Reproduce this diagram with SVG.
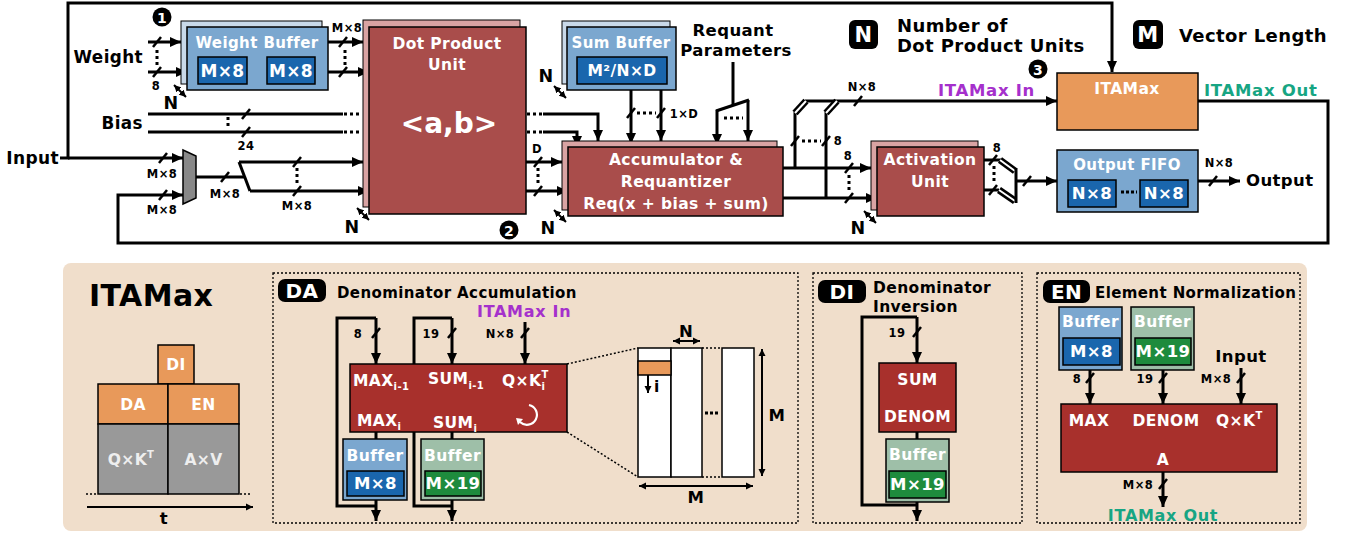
<svg xmlns="http://www.w3.org/2000/svg" xmlns:xlink="http://www.w3.org/1999/xlink" width="1349" height="533" viewBox="0 0 1349 533">
<style>
.ln{fill:none;stroke:#000;stroke-width:3}
.ar{marker-end:url(#ah)}
.thin{fill:none;stroke:#000;stroke-width:2;marker-start:url(#sa);marker-end:url(#sa)}
.dt{fill:none;stroke:#000;stroke-width:3;stroke-dasharray:3 3}
.dl{fill:none;stroke:#000;stroke-width:1.5;stroke-dasharray:2 2}
.bus{fill:none;stroke:#000;stroke-width:7}
.busw{fill:none;stroke:#fff;stroke-width:2}
.t{font-family:"DejaVu Sans",Verdana,"Liberation Sans",sans-serif;font-weight:bold;fill:#000;letter-spacing:0.4px}
.w{fill:#fff}
.c{text-anchor:middle}
.s{font-size:11.5px}
.bf{fill:#7ba7cf;stroke:#000;stroke-width:1.5}
.bb{fill:#c9d9e9;stroke:#000;stroke-width:1}
.db{fill:#1a66ad;stroke:#000;stroke-width:1.5}
.gb{fill:#9ebfa8;stroke:#000;stroke-width:1.5}
.dg{fill:#1e8b3d;stroke:#000;stroke-width:1.5}
.rf{fill:#a94d4b;stroke:#000;stroke-width:1.5}
.rb{fill:#d9a3a3;stroke:#000;stroke-width:1}
.rd{fill:#a8302c;stroke:#000;stroke-width:1.5}
.or{fill:#e8995a;stroke:#000;stroke-width:1.5}
.gr{fill:#999;stroke:#000;stroke-width:1.5}
.wh{fill:#fff;stroke:#000;stroke-width:1.5}
.pu{fill:#a530cc;letter-spacing:0.7px}
.tl{fill:#17a583;letter-spacing:0.7px}
</style>
<defs>
<marker id="ah" markerUnits="userSpaceOnUse" markerWidth="12" markerHeight="12" refX="11" refY="6" orient="auto"><path d="M0,1 L11,6 L0,11 z"/></marker>
<marker id="sa" markerUnits="userSpaceOnUse" markerWidth="8" markerHeight="8" refX="7" refY="4" orient="auto-start-reverse"><path d="M0,0.5 L7,4 L0,7.5 z"/></marker>
<path id="sl" d="M-4,5 L4,-5" stroke="#000" stroke-width="2.5" fill="none"/>
</defs>
<rect width="1349" height="533" fill="#fff"/>

<!-- ============ TOP: connectors ============ -->
<g id="connectors">
  <polyline class="ln ar" points="60,158 68,158 68,3 1112,3 1112,72"/>
  <line class="ln ar" x1="68" y1="158" x2="183" y2="158"/>
  <polyline class="ln ar" points="1198,101 1328,101 1328,243 118,243 118,195 183,195"/>
  <line class="ln" x1="196" y1="177" x2="245" y2="177"/>
  <line class="ln" x1="239" y1="162" x2="250" y2="191"/>
  <line class="ln ar" x1="239" y1="162" x2="363" y2="162"/>
  <line class="ln ar" x1="250" y1="191" x2="369" y2="191"/>
  <line class="ln" x1="148" y1="114" x2="343" y2="114"/>
  <line class="ln" x1="148" y1="132" x2="343" y2="132"/>
  <line class="dt" x1="344" y1="114" x2="362" y2="114"/>
  <line class="dt" x1="344" y1="132" x2="362" y2="132"/>
  <line class="dt" x1="527" y1="114" x2="543" y2="114"/>
  <line class="dt" x1="527" y1="132" x2="543" y2="132"/>
  <polyline class="ln ar" points="543,114 598,114 598,141"/>
  <polyline class="ln ar" points="543,132 577,132 577,147"/>
  <line class="ln ar" x1="148" y1="42" x2="181" y2="42"/>
  <line class="ln ar" x1="148" y1="72" x2="187" y2="72"/>
  <line class="ln ar" x1="328" y1="42" x2="363" y2="42"/>
  <line class="ln ar" x1="328" y1="72" x2="369" y2="72"/>
  <line class="ln ar" x1="526" y1="162" x2="562" y2="162"/>
  <line class="ln ar" x1="526" y1="191" x2="568" y2="191"/>
  <line class="ln ar" x1="631" y1="90" x2="631" y2="144"/>
  <line class="ln ar" x1="661" y1="90" x2="661" y2="141"/>
  <line class="ln" x1="733" y1="62" x2="733" y2="106"/>
  <line class="ln" x1="716" y1="111" x2="749" y2="100"/>
  <line class="ln ar" x1="717" y1="110" x2="717" y2="145"/>
  <line class="ln ar" x1="748" y1="100" x2="748" y2="141"/>
  <line class="ln ar" x1="783" y1="168" x2="871" y2="168"/>
  <line class="ln ar" x1="783" y1="198" x2="877" y2="198"/>
  <line class="ln" x1="795" y1="168" x2="795" y2="112"/>
  <line class="ln" x1="826" y1="198" x2="826" y2="112"/>
  <line class="ln ar" x1="805" y1="101" x2="1057" y2="101"/>
  <line class="bus" x1="795" y1="113" x2="806" y2="101"/>
  <line class="busw" x1="795" y1="113" x2="806" y2="101"/>
  <line class="bus" x1="826" y1="113" x2="837" y2="101"/>
  <line class="busw" x1="826" y1="113" x2="837" y2="101"/>
  <line class="ln" x1="984" y1="160" x2="1001" y2="160"/>
  <line class="ln" x1="984" y1="190" x2="999" y2="190"/>
  <line class="bus" x1="1000" y1="160" x2="1015" y2="171"/>
  <line class="busw" x1="1000" y1="160" x2="1015" y2="171"/>
  <line class="bus" x1="999" y1="190" x2="1015" y2="201"/>
  <line class="busw" x1="999" y1="190" x2="1015" y2="201"/>
  <line class="ln" x1="1016" y1="168" x2="1016" y2="203"/>
  <line class="ln ar" x1="1016" y1="181" x2="1057" y2="181"/>
  <line class="ln ar" x1="1198" y1="181" x2="1240" y2="181"/>
  <use xlink:href="#sl" x="163" y="158"/>
  <use xlink:href="#sl" x="163" y="195"/>
  <use xlink:href="#sl" x="225" y="177"/>
  <use xlink:href="#sl" x="297" y="162"/>
  <use xlink:href="#sl" x="297" y="191"/>
  <use xlink:href="#sl" x="246" y="114"/>
  <use xlink:href="#sl" x="246" y="132"/>
  <use xlink:href="#sl" x="157" y="42"/>
  <use xlink:href="#sl" x="157" y="72"/>
  <use xlink:href="#sl" x="343" y="42"/>
  <use xlink:href="#sl" x="343" y="72"/>
  <use xlink:href="#sl" x="538" y="162"/>
  <use xlink:href="#sl" x="538" y="191"/>
  <use xlink:href="#sl" x="631" y="113"/>
  <use xlink:href="#sl" x="661" y="113"/>
  <use xlink:href="#sl" x="795" y="141"/>
  <use xlink:href="#sl" x="826" y="141"/>
  <use xlink:href="#sl" x="858" y="101"/>
  <use xlink:href="#sl" x="849" y="168"/>
  <use xlink:href="#sl" x="849" y="198"/>
  <use xlink:href="#sl" x="993" y="160"/>
  <use xlink:href="#sl" x="993" y="190"/>
  <use xlink:href="#sl" x="1027" y="181"/>
  <use xlink:href="#sl" x="1213" y="181"/>
  <line class="dt" x1="297" y1="168" x2="297" y2="185"/>
  <line class="dt" x1="228" y1="117" x2="228" y2="129"/>
  <line class="dt" x1="157" y1="50" x2="157" y2="65"/>
  <line class="dt" x1="345" y1="50" x2="345" y2="65"/>
  <line class="dt" x1="538" y1="168" x2="538" y2="185"/>
  <line class="dt" x1="637" y1="113" x2="656" y2="113"/>
  <line class="dt" x1="724" y1="118" x2="743" y2="118"/>
  <line class="dt" x1="802" y1="141" x2="821" y2="141"/>
  <line class="dt" x1="849" y1="175" x2="849" y2="191"/>
  <line class="dt" x1="994" y1="166" x2="994" y2="183"/>
  <line class="thin" x1="174" y1="85" x2="186" y2="97"/>
  <line class="thin" x1="357" y1="208" x2="369" y2="220"/>
  <line class="thin" x1="554" y1="86" x2="566" y2="98"/>
  <line class="thin" x1="554" y1="210" x2="566" y2="222"/>
  <line class="thin" x1="864" y1="211" x2="876" y2="223"/>
</g>

<g id="labels">
  <text class="t" x="59" y="164" font-size="17" text-anchor="end">Input</text>
  <text class="t" x="143" y="63" font-size="16.8" text-anchor="end">Weight</text>
  <text class="t" x="143" y="129" font-size="16.8" text-anchor="end">Bias</text>
  <text class="t s c" x="162" y="178">M×8</text>
  <text class="t s c" x="162" y="214">M×8</text>
  <text class="t s c" x="225" y="198">M×8</text>
  <text class="t s c" x="297" y="210">M×8</text>
  <text class="t s c" x="246" y="150">24</text>
  <text class="t s c" x="156" y="90">8</text>
  <text class="t s c" x="347" y="32">M×8</text>
  <text class="t s c" x="537" y="153">D</text>
  <text class="t s c" x="684" y="118">1×D</text>
  <text class="t s c" x="838" y="145">8</text>
  <text class="t s c" x="848" y="160">8</text>
  <text class="t s c" x="862" y="91">N×8</text>
  <text class="t s c" x="997" y="152">8</text>
  <text class="t s c" x="1219" y="167">N×8</text>
  <text class="t" x="1246" y="186" font-size="16.5">Output</text>
  <text class="t c" x="171" y="109" font-size="17.5">N</text>
  <text class="t c" x="352" y="233" font-size="17.5">N</text>
  <text class="t c" x="546" y="82" font-size="17.5">N</text>
  <text class="t c" x="548" y="234" font-size="17.5">N</text>
  <text class="t c" x="858" y="234" font-size="17.5">N</text>
  <text class="t c" x="733" y="36" font-size="16.5">Requant</text>
  <text class="t c" x="736" y="56" font-size="16.5">Parameters</text>
  <text class="t pu" x="938" y="96" font-size="16.5">ITAMax In</text>
  <text class="t tl" x="1204" y="96" font-size="16.5">ITAMax Out</text>
  <circle cx="162" cy="17" r="9.5"/><text class="t w c" x="162" y="22.5" font-size="14">1</text>
  <circle cx="509" cy="230" r="9.5"/><text class="t w c" x="509" y="235.5" font-size="14">2</text>
  <circle cx="1038" cy="69" r="9.5"/><text class="t w c" x="1038" y="74.5" font-size="14">3</text>
</g>

<g id="legend">
  <rect x="849" y="20" width="29" height="29" rx="6" fill="#000"/>
  <text class="t w c" x="863.5" y="42" font-size="21">N</text>
  <text class="t" x="897" y="32" font-size="18">Number of</text>
  <text class="t" x="897" y="52" font-size="18">Dot Product Units</text>
  <rect x="1133" y="20" width="30" height="29" rx="6" fill="#000"/>
  <text class="t w c" x="1148" y="42" font-size="21">M</text>
  <text class="t" x="1179" y="42" font-size="18">Vector Length</text>
</g>

<g id="mux"><polygon points="183,150 196,156 196,198 183,204" fill="#888" stroke="#000" stroke-width="1.5"/></g>

<g id="weight-buffer">
  <rect class="bb" x="181" y="21" width="141" height="63"/>
  <rect class="bf" x="187" y="27" width="141" height="63"/>
  <text class="t w c" x="257" y="48" font-size="15">Weight Buffer</text>
  <rect class="db" x="198" y="57" width="49" height="27"/>
  <text class="t w c" x="222.5" y="77" font-size="17">M×8</text>
  <rect class="db" x="267" y="57" width="48" height="27"/>
  <text class="t w c" x="291" y="77" font-size="17">M×8</text>
</g>

<g id="dot-product-unit">
  <rect class="rb" x="363" y="20" width="157" height="187"/>
  <rect class="rf" x="369" y="27" width="157" height="187"/>
  <text class="t w c" x="447" y="49" font-size="15.5">Dot Product</text>
  <text class="t w c" x="447" y="70" font-size="15.5">Unit</text>
  <text class="t w c" x="449" y="133" font-size="28" style="letter-spacing:0">&lt;a,b&gt;</text>
</g>

<g id="sum-buffer">
  <rect class="bb" x="562" y="21" width="108" height="63"/>
  <rect class="bf" x="567" y="27" width="109" height="63"/>
  <text class="t w c" x="621" y="48" font-size="15">Sum Buffer</text>
  <rect class="db" x="577" y="57" width="90" height="27"/>
  <text class="t w c" x="622" y="76" font-size="15.5">M²/N×D</text>
</g>

<g id="accumulator">
  <rect class="rb" x="562" y="141" width="215" height="69"/>
  <rect class="rf" x="568" y="147" width="215" height="69"/>
  <text class="t w c" x="676" y="165" font-size="15.5">Accumulator &amp;</text>
  <text class="t w c" x="676" y="187" font-size="15.5">Requantizer</text>
  <text class="t w c" x="676" y="209" font-size="15.5">Req(x + bias + sum)</text>
</g>

<g id="activation-unit">
  <rect class="rb" x="871" y="141" width="107" height="69"/>
  <rect class="rf" x="877" y="147" width="107" height="69"/>
  <text class="t w c" x="930" y="165" font-size="15.5">Activation</text>
  <text class="t w c" x="930" y="187" font-size="15.5">Unit</text>
</g>

<g id="itamax">
  <rect class="or" x="1057" y="73" width="141" height="57"/>
  <text class="t w c" x="1127" y="94" font-size="15.5">ITAMax</text>
</g>

<g id="output-fifo">
  <rect class="bf" x="1057" y="150" width="141" height="62"/>
  <text class="t w c" x="1127" y="170" font-size="15">Output FIFO</text>
  <rect class="db" x="1068" y="180" width="48" height="27"/>
  <text class="t w c" x="1092" y="199" font-size="16.5">N×8</text>
  <rect class="db" x="1140" y="180" width="48" height="27"/>
  <text class="t w c" x="1164" y="199" font-size="16.5">N×8</text>
  <line x1="1121" y1="192" x2="1137" y2="192" stroke="#000" stroke-width="3" stroke-dasharray="3 2"/>
</g>

<!-- ============ BOTTOM PANEL ============ -->
<g id="itamax-panel">
  <rect x="63" y="263" width="1244" height="268" rx="8" fill="#f0decb"/>
  <text class="t" x="89" y="306" font-size="30">ITAMax</text>
</g>

<g id="schedule">
  <rect class="or" x="158" y="345" width="36" height="39"/>
  <text class="t w c" x="176" y="370" font-size="15.5">DI</text>
  <rect class="or" x="98" y="384" width="70" height="40"/>
  <text class="t w c" x="133" y="410" font-size="15.5">DA</text>
  <rect class="or" x="168" y="384" width="71" height="40"/>
  <text class="t w c" x="203.5" y="410" font-size="15.5">EN</text>
  <rect class="gr" x="98" y="424" width="70" height="70"/>
  <text class="t c" x="131" y="465" font-size="15.5" style="fill:#eee">Q×K<tspan font-size="10" dy="-7">T</tspan></text>
  <rect class="gr" x="168" y="424" width="71" height="70"/>
  <text class="t c" x="203.5" y="465" font-size="15.5" style="fill:#eee">A×V</text>
  <line class="dl" x1="86" y1="494" x2="97" y2="494"/>
  <line class="dl" x1="240" y1="494" x2="251" y2="494"/>
  <line x1="87" y1="507" x2="253" y2="507" stroke="#000" stroke-width="2" marker-end="url(#sa)"/>
  <text class="t c" x="164" y="524" font-size="16.5">t</text>
</g>

<g id="da">
  <rect class="dl" x="273" y="273" width="525" height="250" style="stroke-width:1.3"/>
  <rect x="278" y="279" width="48" height="23" rx="7" fill="#000"/>
  <text class="t w c" x="302" y="298" font-size="20">DA</text>
  <text class="t" x="337" y="298" font-size="15">Denominator Accumulation</text>
  <text class="t pu" x="477" y="317" font-size="16">ITAMax In</text>
  <polyline class="ln" points="376,506 337,506 337,318 376,318"/>
  <line class="ln ar" x1="376" y1="318" x2="376" y2="364"/>
  <polyline class="ln" points="452,506 414,506 414,318 452,318"/>
  <line class="ln ar" x1="452" y1="318" x2="452" y2="364"/>
  <line class="ln ar" x1="525" y1="322" x2="525" y2="364"/>
  <line class="ln" x1="376" y1="432" x2="376" y2="439"/>
  <line class="ln" x1="452" y1="432" x2="452" y2="439"/>
  <line class="ln ar" x1="376" y1="500" x2="376" y2="521"/>
  <line class="ln ar" x1="452" y1="500" x2="452" y2="521"/>
  <use xlink:href="#sl" x="376" y="333"/>
  <use xlink:href="#sl" x="452" y="333"/>
  <use xlink:href="#sl" x="525" y="333"/>
  <text class="t s c" x="358" y="338">8</text>
  <text class="t s c" x="431" y="338">19</text>
  <text class="t s c" x="500" y="338">N×8</text>
  <rect class="rd" x="350" y="364" width="217" height="68"/>
  <text class="t w" x="353" y="386" font-size="15.5">MAX<tspan font-size="10" dy="4">i-1</tspan></text>
  <text class="t w" x="428" y="384" font-size="15.5">SUM<tspan font-size="10" dy="5">i-1</tspan></text>
  <text class="t w" x="502" y="386" font-size="15.5">Q×K<tspan font-size="10" dy="-8">T</tspan><tspan font-size="10" dx="-7" dy="12">i</tspan></text>
  <text class="t w" x="357" y="426" font-size="15.5">MAX<tspan font-size="10" dy="4">i</tspan></text>
  <text class="t w" x="433" y="428" font-size="15.5">SUM<tspan font-size="10" dy="4">i</tspan></text>
  <path d="M529,405 A10,10 0 1 1 520,422" fill="none" stroke="#fff" stroke-width="2.2"/>
  <path d="M516,418 L523,419 L518,425 z" fill="#fff"/>
  <rect class="bf" x="343" y="439" width="64" height="61"/>
  <text class="t w c" x="375" y="461" font-size="15.5">Buffer</text>
  <rect class="db" x="347" y="471" width="57" height="25"/>
  <text class="t w c" x="375.5" y="489" font-size="16.5">M×8</text>
  <rect class="gb" x="421" y="439" width="63" height="61"/>
  <text class="t w c" x="452.5" y="461" font-size="15.5">Buffer</text>
  <rect class="dg" x="425" y="471" width="56" height="25"/>
  <text class="t w c" x="453" y="489" font-size="16.5">M×19</text>
  <line class="dl" x1="567" y1="364" x2="638" y2="348"/>
  <line class="dl" x1="567" y1="432" x2="638" y2="477"/>
  <line class="dl" x1="702" y1="348" x2="722" y2="348"/>
  <line class="dl" x1="702" y1="477" x2="722" y2="477"/>
  <rect class="wh" x="638" y="348" width="33" height="129"/>
  <rect class="wh" x="671" y="348" width="31" height="129"/>
  <rect class="wh" x="722" y="348" width="32" height="129"/>
  <rect class="or" x="638" y="361" width="33" height="14"/>
  <line x1="648" y1="375" x2="648" y2="393" stroke="#000" stroke-width="2" marker-end="url(#sa)"/>
  <text class="t" x="654" y="392" font-size="15.5">i</text>
  <line x1="705" y1="413" x2="720" y2="413" stroke="#000" stroke-width="3" stroke-dasharray="3 2"/>
  <line class="thin" x1="673" y1="341" x2="700" y2="341"/>
  <text class="t c" x="686" y="337" font-size="16.5">N</text>
  <line class="thin" x1="762" y1="349" x2="762" y2="476"/>
  <text class="t c" x="777" y="421" font-size="16.5">M</text>
  <line class="thin" x1="639" y1="486" x2="753" y2="486"/>
  <text class="t c" x="696" y="503" font-size="16.5">M</text>
</g>

<g id="di">
  <rect class="dl" x="813" y="273" width="209" height="250" style="stroke-width:1.3"/>
  <rect x="818" y="280" width="48" height="23" rx="7" fill="#000"/>
  <text class="t w c" x="842" y="299" font-size="20">DI</text>
  <text class="t" x="873" y="293" font-size="15.5">Denominator</text>
  <text class="t" x="873" y="312" font-size="15.5">Inversion</text>
  <polyline class="ln" points="917,505 862,505 862,317 917,317"/>
  <line class="ln ar" x1="917" y1="317" x2="917" y2="363"/>
  <line class="ln" x1="917" y1="432" x2="917" y2="439"/>
  <line class="ln ar" x1="917" y1="502" x2="917" y2="521"/>
  <use xlink:href="#sl" x="917" y="332"/>
  <text class="t s c" x="897" y="337">19</text>
  <rect class="rd" x="879" y="363" width="77" height="69"/>
  <text class="t w c" x="917.5" y="385" font-size="15.5">SUM</text>
  <text class="t w c" x="917.5" y="422" font-size="15.5">DENOM</text>
  <rect class="gb" x="886" y="439" width="63" height="63"/>
  <text class="t w c" x="917.5" y="460" font-size="15.5">Buffer</text>
  <rect class="dg" x="889" y="471" width="57" height="27"/>
  <text class="t w c" x="917.5" y="490" font-size="16.5">M×19</text>
</g>

<g id="en">
  <rect class="dl" x="1037" y="273" width="263" height="250" style="stroke-width:1.3"/>
  <rect x="1043" y="280" width="47" height="23" rx="7" fill="#000"/>
  <text class="t w c" x="1066.5" y="299" font-size="20">EN</text>
  <text class="t" x="1095" y="298" font-size="15">Element Normalization</text>
  <rect class="bf" x="1059" y="307" width="63" height="63"/>
  <text class="t w c" x="1090.5" y="327" font-size="15.5">Buffer</text>
  <rect class="db" x="1063" y="338" width="57" height="27"/>
  <text class="t w c" x="1091.5" y="357" font-size="16.5">M×8</text>
  <rect class="gb" x="1131" y="307" width="63" height="63"/>
  <text class="t w c" x="1162.5" y="327" font-size="15.5">Buffer</text>
  <rect class="dg" x="1135" y="338" width="56" height="27"/>
  <text class="t w c" x="1163" y="357" font-size="16.5">M×19</text>
  <text class="t c" x="1241" y="362" font-size="16.5">Input</text>
  <line class="ln ar" x1="1090" y1="370" x2="1090" y2="404"/>
  <line class="ln ar" x1="1163" y1="370" x2="1163" y2="404"/>
  <line class="ln ar" x1="1241" y1="368" x2="1241" y2="404"/>
  <use xlink:href="#sl" x="1090" y="378"/>
  <use xlink:href="#sl" x="1163" y="378"/>
  <use xlink:href="#sl" x="1241" y="378"/>
  <text class="t s c" x="1077" y="383">8</text>
  <text class="t s c" x="1145" y="383">19</text>
  <text class="t s c" x="1216" y="383">M×8</text>
  <rect class="rd" x="1061" y="404" width="216" height="68"/>
  <text class="t w c" x="1089" y="426" font-size="15.5">MAX</text>
  <text class="t w c" x="1166" y="426" font-size="15.5">DENOM</text>
  <text class="t w" x="1216" y="426" font-size="15.5">Q×K<tspan font-size="10" dy="-7">T</tspan></text>
  <text class="t w c" x="1163" y="465" font-size="15.5">A</text>
  <line class="ln ar" x1="1163" y1="472" x2="1163" y2="507"/>
  <use xlink:href="#sl" x="1163" y="484"/>
  <text class="t s c" x="1138" y="489">M×8</text>
  <text class="t tl c" x="1163" y="521" font-size="16">ITAMax Out</text>
</g>
</svg>
